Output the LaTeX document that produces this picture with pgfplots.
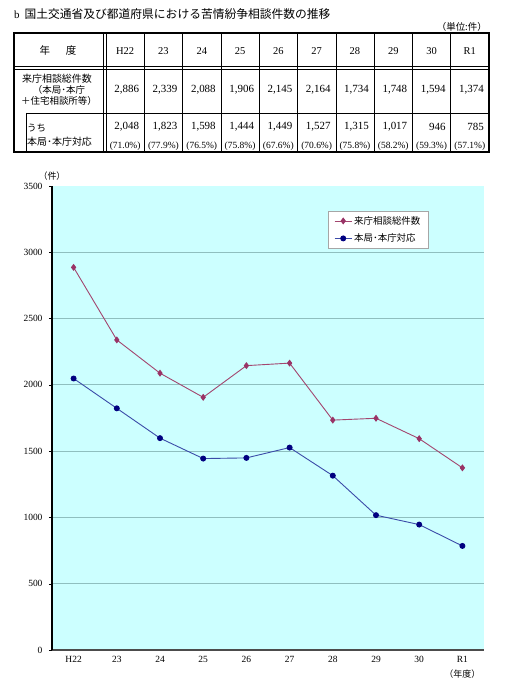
\documentclass[border=0pt]{standalone}
\usepackage{fontspec}
\setmainfont{Liberation Serif}
\newfontfamily\cjk{Noto Sans CJK JP}
\usepackage{pgfplots}
\pgfplotsset{compat=1.18}
\definecolor{bgcyan}{HTML}{CCFFFF}
\definecolor{gridc}{HTML}{8FBFBF}
\definecolor{plum}{HTML}{993366}
\definecolor{plumline}{HTML}{A3466F}
\definecolor{navy}{HTML}{000080}
\definecolor{navyline}{HTML}{3B4BA8}
\newcommand\fs[1]{\fontsize{#1}{#1}\selectfont}

\begin{document}
\begin{tikzpicture}
\useasboundingbox (0,0) rectangle (508bp,688bp);
% table (pixel coordinates, y downwards)
\begin{scope}[x=1bp,y=-1bp,yshift=688bp]
  \node[anchor=west,inner sep=0] at (14,14) {\fs{11}b\hspace{5bp}\cjk\fs{11.8}国土交通省及び都道府県における苦情紛争相談件数の推移};
  \node[anchor=east,inner sep=0] at (487,27) {\cjk\fs{9.5}（単位:件）};
  \draw[line width=1.6bp] (14,33) rectangle (489,152);
  \draw[line width=0.6bp] (14,66) -- (489,66) (14,69) -- (489,69);
  \draw[line width=0.6bp] (103,33) -- (103,152) (106,33) -- (106,152);
  \foreach \k in {1,...,9} \draw[line width=0.6bp] (106+38.3*\k,33) -- (106+38.3*\k,152);
  \draw[line width=0.6bp] (26,113) -- (489,113) (26,113) -- (26,152);
  \node at (58,51) {\cjk\fs{10.5}年\hspace{1.5em}度};
  \node[align=center,font=\cjk\fs{10},inner sep=0] at (57,79) {来庁相談総件数};
  \node[align=center,font=\cjk\fs{9.5},inner sep=0] at (59,90) {（本局･本庁};
  \node[align=center,font=\cjk\fs{9.5},inner sep=0] at (59,101) {＋住宅相談所等）};
  \node[anchor=west,font=\cjk\fs{9.5},inner sep=0] at (27,128) {うち};
  \node[anchor=west,font=\cjk\fs{10},inner sep=0] at (27,142) {本局･本庁対応};
  \foreach \lab [count=\i from 0] in {H22,23,24,25,26,27,28,29,30,R1}
    \node[font=\fs{10.5}] at (106+38.3*\i+19.15,51) {\lab};
  \foreach \v [count=\i from 1] in {2{,}886,2{,}339,2{,}088,1{,}906,2{,}145,2{,}164,1{,}734,1{,}748,1{,}594,1{,}374}
    \node[anchor=east,font=\fs{11},inner sep=0] at (106+38.3*\i-5,90) {\v};
  \foreach \v [count=\i from 1] in {2{,}048,1{,}823,1{,}598,1{,}444,1{,}449,1{,}527,1{,}315,1{,}017,946,785}
    \node[anchor=east,font=\fs{11},inner sep=0] at (106+38.3*\i-5,127) {\v};
  \foreach \v [count=\i from 0] in {71.0,77.9,76.5,75.8,67.6,70.6,75.8,58.2,59.3,57.1}
    \node[font=\fs{9.5},inner sep=0] at (106+38.3*\i+19.15,146) {(\v\%)};
\end{scope}

\begin{axis}[
  at={(52bp,38bp)}, anchor=south west,
  scale only axis, width=432bp, height=464bp,
  xmin=-0.5, xmax=9.5, ymin=0, ymax=3500,
  axis x line=bottom, axis y line=left,
  axis line style={-, line width=1.2bp, black},
  x axis line style={gray!60!black},
  axis background/.style={fill=bgcyan},
  xtick={0,...,9},
  xticklabels={H22,23,24,25,26,27,28,29,30,R1},
  major x tick style={draw=none},
  extra x ticks={-0.5,0.5,...,9.5},
  extra x tick labels={},
  extra x tick style={tick align=center, major tick length=4bp, tick style={black,line width=0.8bp}, grid=none},
  ytick={0,500,...,3000},
  extra y ticks={3500},
  extra y tick style={grid=none},
  ymajorgrids, grid style={gridc, line width=0.8bp},
  major tick length=3bp, tick align=outside,
  ytick style={black},
  tick label style={font=\fs{9.5}},
  /pgf/number format/assume math mode=true,
  /pgf/number format/set thousands separator={},
  yticklabel style={xshift=-3bp},
  legend style={at={(0.639,0.946)}, anchor=north west, draw=gray!70, fill=white,
    font=\cjk\fs{9.5}, row sep=4bp, inner xsep=6bp, inner ysep=3bp},
  legend cell align=left,
  clip=false,
]
\addplot[plumline, line width=0.9bp, mark=diamond*, mark size=2.8bp, mark options={plum, fill=plum}]
  coordinates {(0,2886)(1,2339)(2,2088)(3,1906)(4,2145)(5,2164)(6,1734)(7,1748)(8,1594)(9,1374)};
\addlegendentry{来庁相談総件数}
\addplot[navyline, line width=0.9bp, mark=*, mark size=2.5bp, mark options={navy, fill=navy}]
  coordinates {(0,2048)(1,1823)(2,1598)(3,1444)(4,1449)(5,1527)(6,1315)(7,1017)(8,946)(9,785)};
\addlegendentry{本局･本庁対応}
\node[font=\cjk\fs{9}, anchor=south] at (rel axis cs:0.0,1) [yshift=2bp] {（件）};
\node[font=\cjk\fs{9}] at (axis cs:9,0) [yshift=-24bp] {（年度）};
\end{axis}
\end{tikzpicture}
\end{document}
